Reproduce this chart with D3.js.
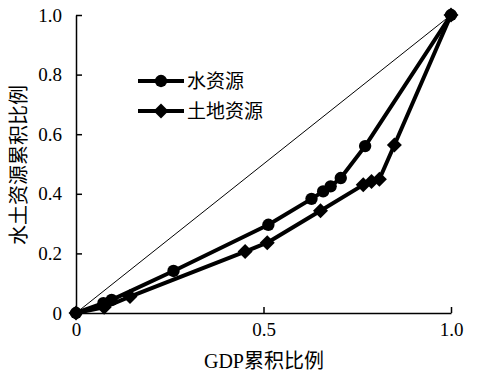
<!DOCTYPE html>
<html><head><meta charset="utf-8">
<script src="https://cdn.jsdelivr.net/npm/d3@7/dist/d3.min.js"></script>
<style>body{margin:0;background:#fff}svg{display:block}</style>
</head><body><svg id="c" width="478" height="380"></svg>
<script>
const waterX = [0, 0.073, 0.095, 0.26, 0.513, 0.628, 0.659, 0.679, 0.706, 0.771, 1];
const waterY = [0, 0.033, 0.044, 0.141, 0.296, 0.383, 0.408, 0.425, 0.453, 0.560, 1];
const landX = [0, 0.075, 0.144, 0.451, 0.51, 0.652, 0.766, 0.788, 0.809, 0.849, 1];
const landY = [0, 0.019, 0.055, 0.206, 0.236, 0.343, 0.430, 0.441, 0.449, 0.564, 1];
const xTicks = [0, 0.5, 1.0];
const xTickLabels = ["0", "0.5", "1.0"];
const yTicks = [0, 0.2, 0.4, 0.6, 0.8, 1.0];
const yTickLabels = ["0", "0.2", "0.4", "0.6", "0.8", "1.0"];
const seriesNames = ["水资源", "土地资源"];
const xTitle = "GDP累积比例";
const yTitle = "水土资源累积比例";

const svg = d3.select("#c");
const x = d3.scaleLinear().domain([0, 1]).range([76, 451]);
const y = d3.scaleLinear().domain([0, 1]).range([313, 15]);
const numFont = "'Liberation Serif','DejaVu Serif',serif";
const cjkFont = "'Liberation Serif','Noto Sans CJK SC',serif";

// axes
const xAxis = d3.axisBottom(x).tickValues(xTicks).tickFormat((d,i)=>xTickLabels[i]).tickSizeInner(-6).tickSizeOuter(0).tickPadding(10);
const gx = svg.append("g").attr("transform", `translate(0,${y(0)})`).call(xAxis);
const yAxis = d3.axisLeft(y).tickValues(yTicks).tickFormat((d,i)=>yTickLabels[i]).tickSizeInner(-6).tickSizeOuter(0).tickPadding(14);
const gy = svg.append("g").attr("transform", `translate(${x(0)},0)`).call(yAxis);
[gx, gy].forEach(g => {
  g.attr("font-family", null).attr("font-size", null);
  g.select(".domain").attr("stroke", "#000").attr("stroke-width", 1.5);
  g.selectAll(".tick line").attr("stroke", "#000").attr("stroke-width", 1.5);
  g.selectAll(".tick text").style("font-family", numFont).style("font-size", "19px").attr("fill", "#000");
});

// diagonal
svg.append("line").attr("x1", x(0)).attr("y1", y(0)).attr("x2", x(1)).attr("y2", y(1))
  .attr("stroke", "#000").attr("stroke-width", 1);

const line = d3.line().x(d => x(d[0])).y(d => y(d[1]));
const water = waterX.map((v, i) => [v, waterY[i]]);
const land = landX.map((v, i) => [v, landY[i]]);

svg.append("path").datum(land).attr("d", line).attr("fill", "none").attr("stroke", "#000").attr("stroke-width", 4).attr("stroke-linejoin", "round");
svg.append("path").datum(water).attr("d", line).attr("fill", "none").attr("stroke", "#000").attr("stroke-width", 4).attr("stroke-linejoin", "round");

const circ = d3.symbol().type(d3.symbolCircle).size(120);
const diam = "M0,-7.5L7.5,0L0,7.5L-7.5,0Z";
svg.append("g").selectAll("path").data(land).join("path")
  .attr("d", diam).attr("transform", d => `translate(${x(d[0])},${y(d[1])})`).attr("fill", "#000");
svg.append("g").selectAll("path").data(water).join("path")
  .attr("d", circ).attr("transform", d => `translate(${x(d[0])},${y(d[1])})`).attr("fill", "#000");

// legend
const leg = [{n: seriesNames[0], s: circ, yy: 81}, {n: seriesNames[1], s: diam, yy: 111}];
leg.forEach(l => {
  svg.append("line").attr("x1", 138).attr("x2", 184).attr("y1", l.yy).attr("y2", l.yy).attr("stroke", "#000").attr("stroke-width", 4);
  svg.append("path").attr("d", l.s).attr("transform", `translate(161,${l.yy})`).attr("fill", "#000");
  svg.append("text").attr("x", 187).attr("y", l.yy).attr("dy", "0.35em").style("font-family", cjkFont).style("font-size", "19px").attr("fill", "#000").text(l.n);
});

// titles
svg.append("text").attr("x", 264).attr("y", 368).attr("text-anchor", "middle").style("font-family", cjkFont).style("font-size", "20px").attr("fill", "#000").text(xTitle);
svg.append("text").attr("transform", "translate(26,165) rotate(-90)").attr("text-anchor", "middle").style("font-family", cjkFont).style("font-size", "20px").attr("fill", "#000").text(yTitle);
</script></body></html>
